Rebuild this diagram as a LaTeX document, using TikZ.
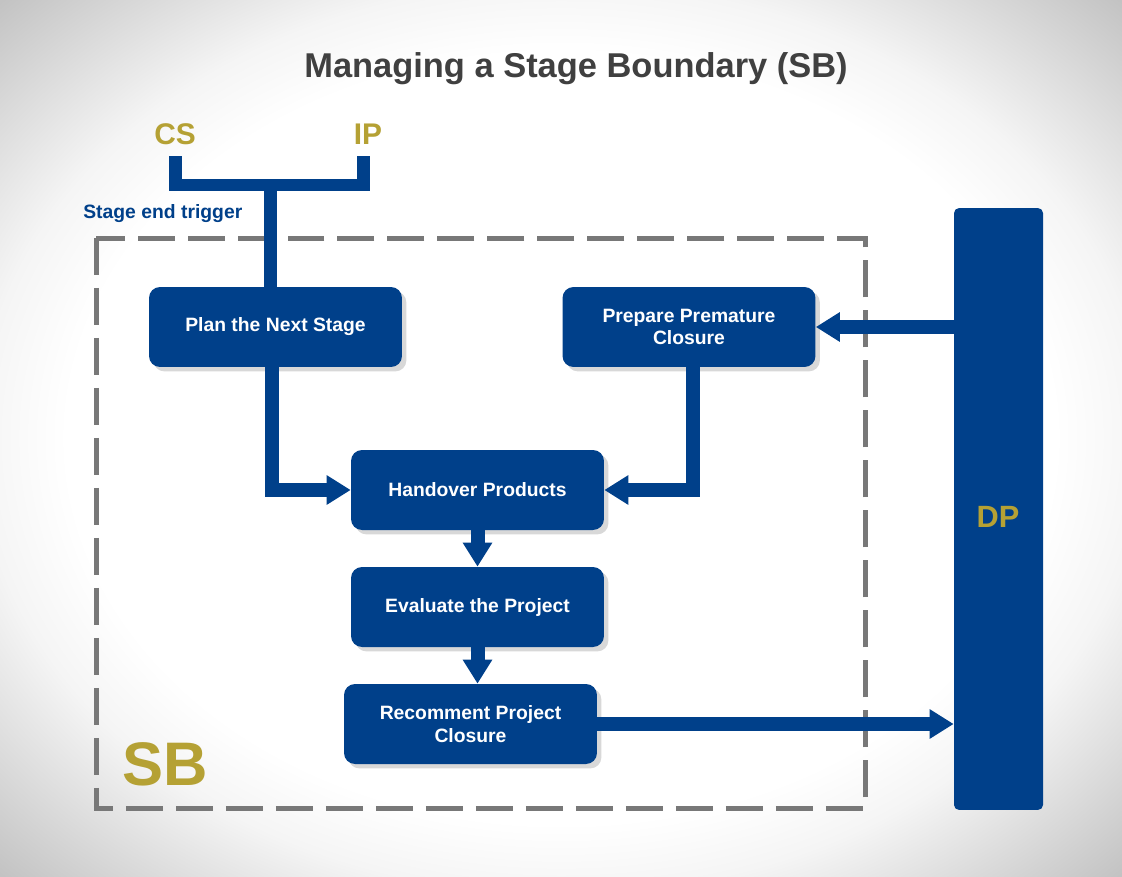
\documentclass[tikz,border=0pt]{standalone}
\usepackage{fontspec}
\setmainfont{Liberation Sans}
\usetikzlibrary{arrows.meta,shadows}

\definecolor{sbblue}{RGB}{0,64,138}
\definecolor{sbgold}{RGB}{181,161,52}
\definecolor{sbgray}{RGB}{64,64,64}
\definecolor{dashgray}{RGB}{120,120,120}

\pgfdeclareradialshading{vignette}{\pgfpoint{0bp}{0bp}}{color(0bp)=(white); color(22bp)=(white); color(26bp)=(black!4); color(35.5bp)=(black!24); color(50bp)=(black!24)}

\begin{document}
\begin{tikzpicture}[x=0.02cm,y=-0.02cm,
    box/.style={fill=sbblue, rounded corners=0.22cm, minimum width=5.06cm, minimum height=1.6cm,
        text=white, font=\bfseries\fontsize{11}{13}\selectfont, align=center,
        drop shadow={shadow xshift=2.5pt, shadow yshift=-2.5pt, opacity=0.3}},
    flow/.style={draw=sbblue, line width=0.28cm, -{Triangle[width=0.56cm,length=0.48cm]}},
    link/.style={draw=sbblue, line width=0.25cm},
    tag/.style={text=sbgold, font=\bfseries\fontsize{17}{20}\selectfont, anchor=base}]

        % pozadi
        \shade[shading=vignette] (0,0) rectangle (1122,876);
        \useasboundingbox (0,0) rectangle (1122,876);

        % nadpis
        \node[anchor=base, text=sbgray, font=\bfseries\fontsize{19.6}{23}\selectfont] (title) at (576,77) {Managing a Stage Boundary (SB)};

        % vstupy
        \node[tag] (cs) at (175,144) {CS};
        \node[tag] (ip) at (368,144) {IP};
        \node[anchor=base west, inner sep=0, text=sbblue, font=\bfseries\fontsize{11}{13}\selectfont] (trigger) at (83,218) {Stage end trigger};

        % hranice SB
        \draw[dashgray, line width=0.1cm, dash pattern=on 0.74cm off 0.26cm] (96,238) rectangle (865,808);
        \node[anchor=base, text=sbgold, font=\bfseries\fontsize{35}{40}\selectfont] (sb) at (165,785) {SB};

        % kroky
        \node[box] (plan) at (275.5,327) {Plan the Next Stage};
        \node[box] (prep) at (689,327) {Prepare Premature\\Closure};
        \node[box] (hand) at (477.5,490) {Handover Products};
        \node[box] (eval) at (477.5,607) {Evaluate the Project};
        \node[box] (reco) at (470.5,724) {Recomment Project\\Closure};

        % DP
        \node[fill=sbblue, rounded corners=0.1cm, minimum width=1.78cm, minimum height=12.04cm, inner sep=0] (dp) at (998.5,509) {};
        \node[tag, font=\bfseries\fontsize{17.5}{20}\selectfont] (dplabel) at (998,527) {DP};

        % spojnice
        \coordinate (csend) at (175.5,156);
        \coordinate (ipend) at (363.5,156);
        \coordinate (fork) at (270.5,185);
        \draw[link] (csend) -- (csend |- fork) -- (ipend |- fork) -- (ipend);
        \draw[link] (fork) -- (fork |- plan.north);

        \draw[flow] ([xshift=-0.08cm]plan.south) |- (hand.west);
        \draw[flow] ([xshift=0.08cm]prep.south) |- (hand.east);
        \draw[flow] (hand.south) -- (eval.north);
        \draw[flow] (eval.south) -- (eval.south |- reco.north);
        \draw[flow] (dp.west |- prep.east) -- (prep.east);
        \draw[flow] (reco.east) -- (reco.east -| dp.west);
    \end{tikzpicture}
\end{document}
